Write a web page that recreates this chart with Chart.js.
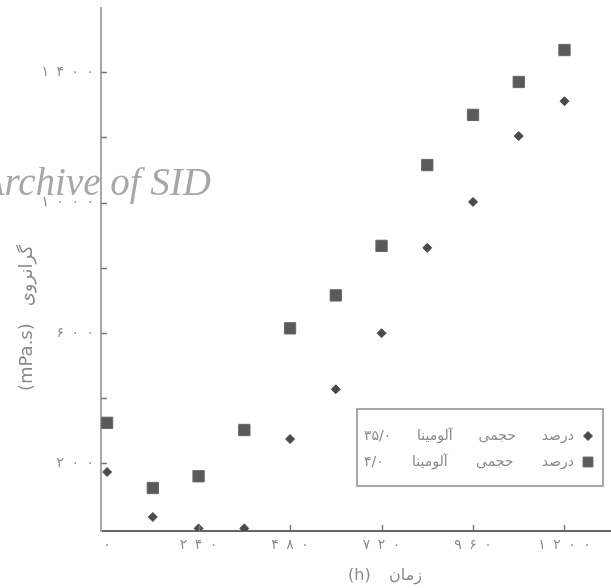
<!DOCTYPE html>
<html lang="fa">
<head>
<meta charset="utf-8">
<script src="https://cdn.jsdelivr.net/npm/chart.js@4.4.1/dist/chart.umd.min.js"></script>
<style>
  html, body { margin: 0; padding: 0; background: #fff; overflow: hidden; }
  #wrap { width: 611px; height: 588px; position: relative; }
</style>
</head>
<body>
<div id="wrap"><canvas id="viscChart"></canvas></div>
<script>
// time (h) and viscosity (mPa.s)
const times = [0, 120, 240, 360, 480, 600, 720, 840, 960, 1080, 1200];
const visc035 = [173, 35, 0, 0, 274, 427, 599, 861, 1002, 1204, 1311];
const visc04 = [324, 124, 160, 302, 614, 715, 867, 1115, 1269, 1370, 1468];
const seriesLabels = ['درصد حجمی آلومینا ۳۵/۰', 'درصد حجمی آلومینا ۴/۰'];
const xTicks = [0, 240, 480, 720, 960, 1200];
const yTicks = [200, 400, 600, 800, 1000, 1200, 1400];
const yLabelled = [200, 600, 1000, 1400];
const xTitle = 'زمان (h)';
const yTitle = 'گرانروی (mPa.s)';
const watermark = 'Archive of SID';

// persian digits, loosely spaced like the scan
const faDigits = n => [...String(n)].map(d => '۰۱۲۳۴۵۶۷۸۹'[d]).join(' ');

Chart.defaults.font.family = '"DejaVu Sans", sans-serif';

// stretch the gaps between words so the text is about as wide as in the scan
function spreadWords(ctx, text, x, y, width) {
    ctx.wordSpacing = '0px';
    const w = ctx.measureText(text).width;
    const gaps = text.split(' ').length - 1;
    ctx.wordSpacing = Math.max(0, (width - w) / gaps).toFixed(2) + 'px';
    ctx.fillText(text, x, y);
    ctx.wordSpacing = '0px';
}

// no extra room for edge labels, the axes sit where the scan has them
const noPadding = s => {
    s.paddingLeft = 0;
    s.paddingRight = 0;
    s.paddingTop = 0;
    s.paddingBottom = 0;
};

const extras = {
    id: 'extras',
    beforeDraw(chart) {
        chart.ctx.wordSpacing = '3px';
    },
    afterDraw(chart) {
        const { ctx, chartArea, scales: { x, y } } = chart;
        ctx.wordSpacing = '0px';
        ctx.save();

        // small ticks pointing into the plot
        ctx.strokeStyle = '#7a7a7a';
        ctx.lineWidth = 1.5;
        yTicks.forEach(v => {
            const py = Math.round(y.getPixelForValue(v)) + 0.5;
            ctx.beginPath();
            ctx.moveTo(chartArea.left, py);
            ctx.lineTo(chartArea.left + 6, py);
            ctx.stroke();
        });
        xTicks.filter(v => v > 0).forEach(v => {
            const px = Math.round(x.getPixelForValue(v)) + 0.5;
            ctx.beginPath();
            ctx.moveTo(px, chartArea.bottom);
            ctx.lineTo(px, chartArea.bottom - 6);
            ctx.stroke();
        });

        // legend box, bottom right
        const box = { left: 357, top: 409, right: 603, bottom: 486 };
        ctx.strokeStyle = '#8c8c8c';
        ctx.lineWidth = 1.5;
        ctx.strokeRect(box.left, box.top, box.right - box.left, box.bottom - box.top);
        const rowY = [436, 462];
        ctx.font = '14px "DejaVu Sans"';
        ctx.direction = 'rtl';
        ctx.textAlign = 'right';
        ctx.textBaseline = 'middle';
        chart.data.datasets.forEach((ds, i) => {
            ctx.fillStyle = ds.backgroundColor;
            ctx.strokeStyle = ds.borderColor;
            ctx.lineWidth = 1;
            Chart.helpers.drawPoint(ctx, { pointStyle: ds.pointStyle, radius: ds.pointStyle === 'rect' ? 7 : 4.5, borderWidth: 1, rotation: 0 }, 588, rowY[i]);
            ctx.fillStyle = '#8a8a8a';
            spreadWords(ctx, ds.label, 574, rowY[i], 210);
        });

        // axis titles
        ctx.textAlign = 'center';
        ctx.fillStyle = '#8a8a8a';
        ctx.font = '16px "DejaVu Sans"';
        spreadWords(ctx, xTitle, 385, 576, 74);
        ctx.save();
        ctx.translate(27, 318);
        ctx.rotate(-Math.PI / 2);
        ctx.font = '18px "DejaVu Sans"';
        spreadWords(ctx, yTitle, 0, 0, 146);
        ctx.restore();

        // scan watermark, its first letter runs off the left edge
        ctx.direction = 'ltr';
        ctx.textAlign = 'right';
        ctx.textBaseline = 'alphabetic';
        ctx.font = 'italic 39px "Liberation Serif"';
        ctx.fillStyle = 'rgba(150,150,150,0.85)';
        ctx.fillText(watermark, 211, 195);
        ctx.restore();
    }
};

const ctx = document.getElementById('viscChart').getContext('2d');
const viscChart = new Chart(ctx, {
    type: 'scatter',
    data: {
        datasets: [{
                label: seriesLabels[0],
                data: times.map((t, i) => ({ x: t, y: visc035[i] })),
                pointStyle: 'rectRot',
                pointRadius: 4.5,
                backgroundColor: '#4a4a4a',
                borderColor: '#4a4a4a',
                borderWidth: 1
            },
            {
                label: seriesLabels[1],
                data: times.map((t, i) => ({ x: t, y: visc04[i] })),
                pointStyle: 'rect',
                pointRadius: 8,
                backgroundColor: '#5a5a5a',
                borderColor: '#666666',
                borderWidth: 1
            }
        ]
    },
    options: {
        responsive: true,
        maintainAspectRatio: false,
        animation: false,
        layout: {
            autoPadding: false,
            padding: { top: 8, right: 0, bottom: 0, left: 0 }
        },
        plugins: {
            legend: { display: false },
            tooltip: { enabled: false }
        },
        scales: {
            x: {
                type: 'linear',
                min: -16,
                max: 1322,
                afterBuildTicks: s => { s.ticks = xTicks.map(v => ({ value: v })); },
                afterFit: s => { s.height = 57; noPadding(s); },
                grid: { display: false, drawTicks: false },
                border: { color: '#666666', width: 2 },
                ticks: {
                    padding: 6,
                    color: '#8c8c8c',
                    font: { size: 14 },
                    maxRotation: 0,
                    autoSkip: false,
                    callback: v => faDigits(v)
                }
            },
            y: {
                min: -8,
                max: 1597,
                afterBuildTicks: s => { s.ticks = yTicks.map(v => ({ value: v })); },
                afterFit: s => { s.width = 101; noPadding(s); },
                grid: { display: false, drawTicks: false },
                border: { color: '#a8a8a8', width: 2 },
                ticks: {
                    padding: 7,
                    color: '#8c8c8c',
                    font: { size: 14 },
                    callback: v => yLabelled.includes(v) ? faDigits(v) : ''
                }
            }
        }
    },
    plugins: [extras]
});
</script>
</body>
</html>
